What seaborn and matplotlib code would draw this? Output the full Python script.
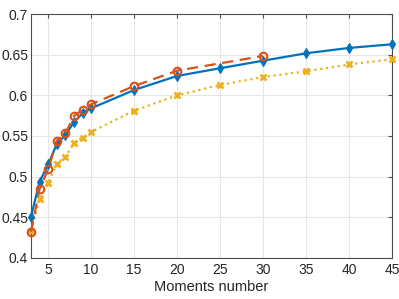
import pandas as pd
import matplotlib
matplotlib.use("Agg")
import matplotlib.pyplot as plt
import seaborn as sns

x_blue = [3, 4, 5, 6, 7, 8, 9, 10, 15, 20, 25, 30, 35, 40, 45]
y_blue = [0.4505, 0.4936, 0.515, 0.540, 0.551, 0.567, 0.578, 0.584,
          0.6065, 0.6238, 0.6333, 0.6426, 0.6517, 0.6583, 0.6628]

x_red = [3, 4, 5, 6, 7, 8, 9, 10, 15, 20, 30]
y_red = [0.432, 0.4846, 0.509, 0.544, 0.553, 0.5745, 0.582, 0.589,
         0.6114, 0.6303, 0.6484]

x_yellow = [3, 4, 5, 6, 7, 8, 9, 10, 15, 20, 25, 30, 35, 40, 45]
y_yellow = [0.433, 0.472, 0.4916, 0.516, 0.524, 0.541, 0.548, 0.555,
            0.581, 0.600, 0.6127, 0.6225, 0.6295, 0.638, 0.6443]

xticks = [5, 10, 15, 20, 25, 30, 35, 40, 45]
yticks = [0.4, 0.45, 0.5, 0.55, 0.6, 0.65, 0.7]
ytick_labels = ["0.4", "0.45", "0.5", "0.55", "0.6", "0.65", "0.7"]

sns.set_style("white")
plt.rcParams['font.family'] = ['Liberation Sans', 'DejaVu Sans']

fig = plt.figure(figsize=(3.99, 2.99), dpi=100)
ax = fig.add_axes([0.0777, 0.138, 0.905, 0.815])

blue = "#0072BD"
red = "#D95319"
yellow = "#EDB120"

sns.lineplot(x=x_yellow, y=y_yellow, ax=ax, color=yellow, linestyle=":",
             linewidth=1.6, marker="x", markersize=4, markeredgewidth=2,
             markeredgecolor=yellow, zorder=3, clip_on=False)
sns.lineplot(x=x_blue, y=y_blue, ax=ax, color=blue, linestyle="-",
             linewidth=1.6, marker="d", markersize=5.5, markerfacecolor=blue,
             markeredgecolor=blue, zorder=4, clip_on=False)
sns.lineplot(x=x_red, y=y_red, ax=ax, color=red, linestyle=(0, (5, 3)),
             linewidth=1.6, marker="o", markersize=5.5, markerfacecolor="none",
             markeredgecolor=red, markeredgewidth=1.5, zorder=5, clip_on=False)

ax.set_xlim(3, 45)
ax.set_ylim(0.4, 0.7)
ax.set_xticks(xticks)
ax.set_yticks(yticks)
ax.set_yticklabels(ytick_labels)
ax.grid(True, color="#e6e6e6", linewidth=0.8)
ax.set_axisbelow(True)
ax.tick_params(direction="in", length=3, color="#4d4d4d", labelsize=10,
               labelcolor="#262626", top=True, right=True, pad=4)
ax.tick_params(axis="y", pad=2)
for s in ax.spines.values():
    s.set_color("#4d4d4d")
    s.set_linewidth(0.8)
ax.set_xlabel("Moments number", fontsize=10.5, color="#262626", labelpad=2)

fig.savefig("out.png", dpi=100)
